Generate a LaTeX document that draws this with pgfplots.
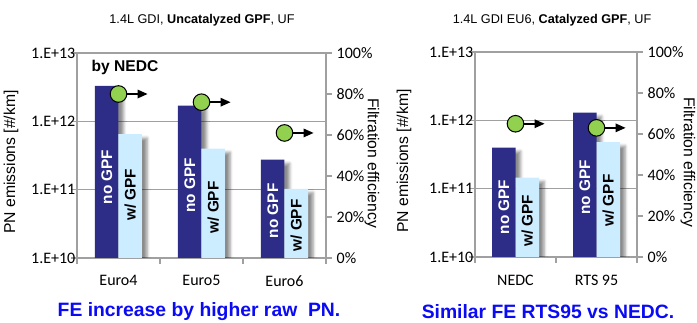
\documentclass[border=0pt]{standalone}
\usepackage{pgfplots}
\pgfplotsset{compat=1.18}
\usepackage{fontspec}
\setmainfont{Liberation Sans}
\newfontfamily\calfont{Carlito}
\usetikzlibrary{shadows.blur}
\newdimen\upx \upx=0.75pt
\definecolor{navy}{RGB}{45,45,135}
\definecolor{lblue}{RGB}{204,236,255}
\definecolor{feGreen}{RGB}{146,208,80}
\definecolor{axgray}{RGB}{160,160,160}
\definecolor{txtblue}{RGB}{10,10,245}

\pgfdeclareplotmark{fe}{%
  \pgfsetlinewidth{1.6\upx}%
  \pgfsetstrokecolor{black}%
  \pgfpathmoveto{\pgfpointorigin}\pgfpathlineto{\pgfpoint{20\upx}{0pt}}\pgfusepath{stroke}%
  \pgfsetfillcolor{black}%
  \pgfpathmoveto{\pgfpoint{29\upx}{0pt}}\pgfpathlineto{\pgfpoint{19\upx}{4.5\upx}}\pgfpathlineto{\pgfpoint{19\upx}{-4.5\upx}}\pgfpathclose\pgfusepath{fill}%
  \pgfsetlinewidth{1\upx}%
  \pgfsetfillcolor{feGreen}%
  \pgfpathcircle{\pgfpointorigin}{8.3\upx}\pgfusepath{fill,stroke}%
}

\tikzset{
  shad/.style={blur shadow={shadow xshift=5\upx, shadow yshift=-4\upx, shadow blur radius=3\upx, shadow opacity=45}},
  nolab/.style={rotate=90, font=\bfseries\fontsize{11.5}{12}\selectfont, text=white},
  wlab/.style={rotate=90, font=\bfseries\fontsize{11.5}{12}\selectfont, text=black},
}

\begin{document}
\begin{tikzpicture}
\useasboundingbox (0,0) rectangle (697\upx,-322\upx);

% ---------- left chart ----------
\begin{axis}[scale only axis, anchor=south west, at={(77\upx,-258\upx)}, width=249\upx, height=205\upx,
  axis line style={axgray, line width=1.3\upx}, tick style={axgray, line width=1.3\upx},
  tick align=outside, major tick length=6\upx, minor tick length=6\upx,
  tick label style={font=\calfont\fontsize{12}{14}\selectfont, text=black},
  yticklabel style={xshift=9\upx},
  ymode=log, ymin=1e10, ymax=1e13, log origin=infty,
  ytick={1e10,1e11,1e12,1e13}, yticklabels={1.E+10,1.E+11,1.E+12,1.E+13},
  yminorticks=false, ymajorgrids, grid style={axgray, line width=1.1\upx},
  tick pos=left, ybar=0pt, bar width=23.5\upx,
  major x tick style={draw=none}, xticklabel style={yshift=-7\upx},
  xmin=-0.5, xmax=2.5, xtick={0,1,2}, xticklabels={Euro4,Euro5,Euro6},
  minor xtick={-0.5,0.5,1.5,2.5},
  ylabel={PN emissions [\#/km]},
  ylabel style={font=\fontsize{11.8}{13}\selectfont, anchor=center, at={(axis description cs:-0.265,0.468)}}]
\addplot[fill=navy, draw=none, shad] coordinates {(0,3.3e12) (1,1.7e12) (2,2.75e11)};
\addplot[fill=lblue, draw=none, shad] coordinates {(0,6.5e11) (1,4.0e11) (2,1.03e11)};
\node[nolab] at (axis cs:-0.1417,1.53e11) {no GPF};
\node[wlab]  at (axis cs:0.1417,8.4e10) {w/ GPF};
\node[nolab] at (axis cs:0.8583,1.15e11) {no GPF};
\node[wlab]  at (axis cs:1.1417,5.5e10) {w/ GPF};
\node[nolab] at (axis cs:1.8583,4.9e10) {no GPF};
\node[wlab]  at (axis cs:2.1417,3.0e10) {w/ GPF};
\node[anchor=west, font=\bfseries\fontsize{11.7}{13}\selectfont] at (rel axis cs:0.04,0.93) {by NEDC};
\end{axis}
\begin{axis}[scale only axis, anchor=south west, at={(77\upx,-258\upx)}, width=249\upx, height=205\upx,
  axis line style={axgray, line width=1.3\upx}, tick style={axgray, line width=1.3\upx},
  tick align=outside, major tick length=6\upx,
  tick label style={font=\calfont\fontsize{12}{14}\selectfont, text=black},
  ymin=0, ymax=100, axis y line*=right, axis x line=none,
  ytick={0,20,40,60,80,100}, yticklabels={0\%,20\%,40\%,60\%,80\%,100\%},
  xmin=-0.5, xmax=2.5, clip=false,
  ylabel={Filtration efficiency},
  ylabel style={font=\fontsize{11.8}{13}\selectfont, anchor=center, rotate=180, at={(axis description cs:1.185,0.463)}}]
\addplot[only marks, mark=fe] coordinates {(0,80) (1,76) (2,61)};
\end{axis}

% ---------- right chart ----------
\begin{axis}[scale only axis, anchor=south west, at={(475\upx,-257\upx)}, width=162\upx, height=205\upx,
  axis line style={axgray, line width=1.3\upx}, tick style={axgray, line width=1.3\upx},
  tick align=outside, major tick length=6\upx, minor tick length=6\upx,
  tick label style={font=\calfont\fontsize{12}{14}\selectfont, text=black},
  yticklabel style={xshift=9\upx},
  ymode=log, ymin=1e10, ymax=1e13, log origin=infty,
  ytick={1e10,1e11,1e12,1e13}, yticklabels={1.E+10,1.E+11,1.E+12,1.E+13},
  yminorticks=false, ymajorgrids, grid style={axgray, line width=1.1\upx},
  tick pos=left, ybar=0pt, bar width=23.5\upx,
  major x tick style={draw=none}, xticklabel style={yshift=-7\upx},
  xmin=-0.5, xmax=1.5, xtick={0,1}, xticklabels={NEDC,RTS 95},
  minor xtick={-0.5,0.5,1.5},
  ylabel={PN emissions [\#/km]},
  ylabel style={font=\fontsize{11.8}{13}\selectfont, anchor=center, at={(axis description cs:-0.438,0.468)}}]
\addplot[fill=navy, draw=none, shad] coordinates {(0,4.0e11) (1,1.3e12)};
\addplot[fill=lblue, draw=none, shad] coordinates {(0,1.45e11) (1,4.8e11)};
\node[nolab] at (axis cs:-0.145,5.4e10) {no GPF};
\node[wlab]  at (axis cs:0.145,3.4e10) {w/ GPF};
\node[nolab] at (axis cs:0.855,1.04e11) {no GPF};
\node[wlab]  at (axis cs:1.145,6.7e10) {w/ GPF};
\end{axis}
\begin{axis}[scale only axis, anchor=south west, at={(475\upx,-257\upx)}, width=162\upx, height=205\upx,
  axis line style={axgray, line width=1.3\upx}, tick style={axgray, line width=1.3\upx},
  tick align=outside, major tick length=6\upx,
  tick label style={font=\calfont\fontsize{12}{14}\selectfont, text=black},
  ymin=0, ymax=100, axis y line*=right, axis x line=none,
  ytick={0,20,40,60,80,100}, yticklabels={0\%,20\%,40\%,60\%,80\%,100\%},
  xmin=-0.5, xmax=1.5, clip=false,
  ylabel={Filtration efficiency},
  ylabel style={font=\fontsize{11.8}{13}\selectfont, anchor=center, rotate=180, at={(axis description cs:1.315,0.463)}}]
\addplot[only marks, mark=fe] coordinates {(0,65) (1,63)};
\end{axis}

% ---------- titles and captions ----------
\node[font=\fontsize{9.5}{11}\selectfont] at (202\upx,-20\upx) {1.4L GDI, \textbf{Uncatalyzed GPF}, UF};
\node[font=\fontsize{9.5}{11}\selectfont] at (552\upx,-20\upx) {1.4L GDI EU6, \textbf{Catalyzed GPF}, UF};
\node[font=\bfseries\fontsize{14.5}{16}\selectfont, text=txtblue] at (199\upx,-312\upx) {FE increase by higher raw\ \ PN.};
\node[font=\bfseries\fontsize{14.5}{16}\selectfont, text=txtblue] at (548\upx,-312\upx) {Similar FE RTS95 vs NEDC.};
\end{tikzpicture}
\end{document}
